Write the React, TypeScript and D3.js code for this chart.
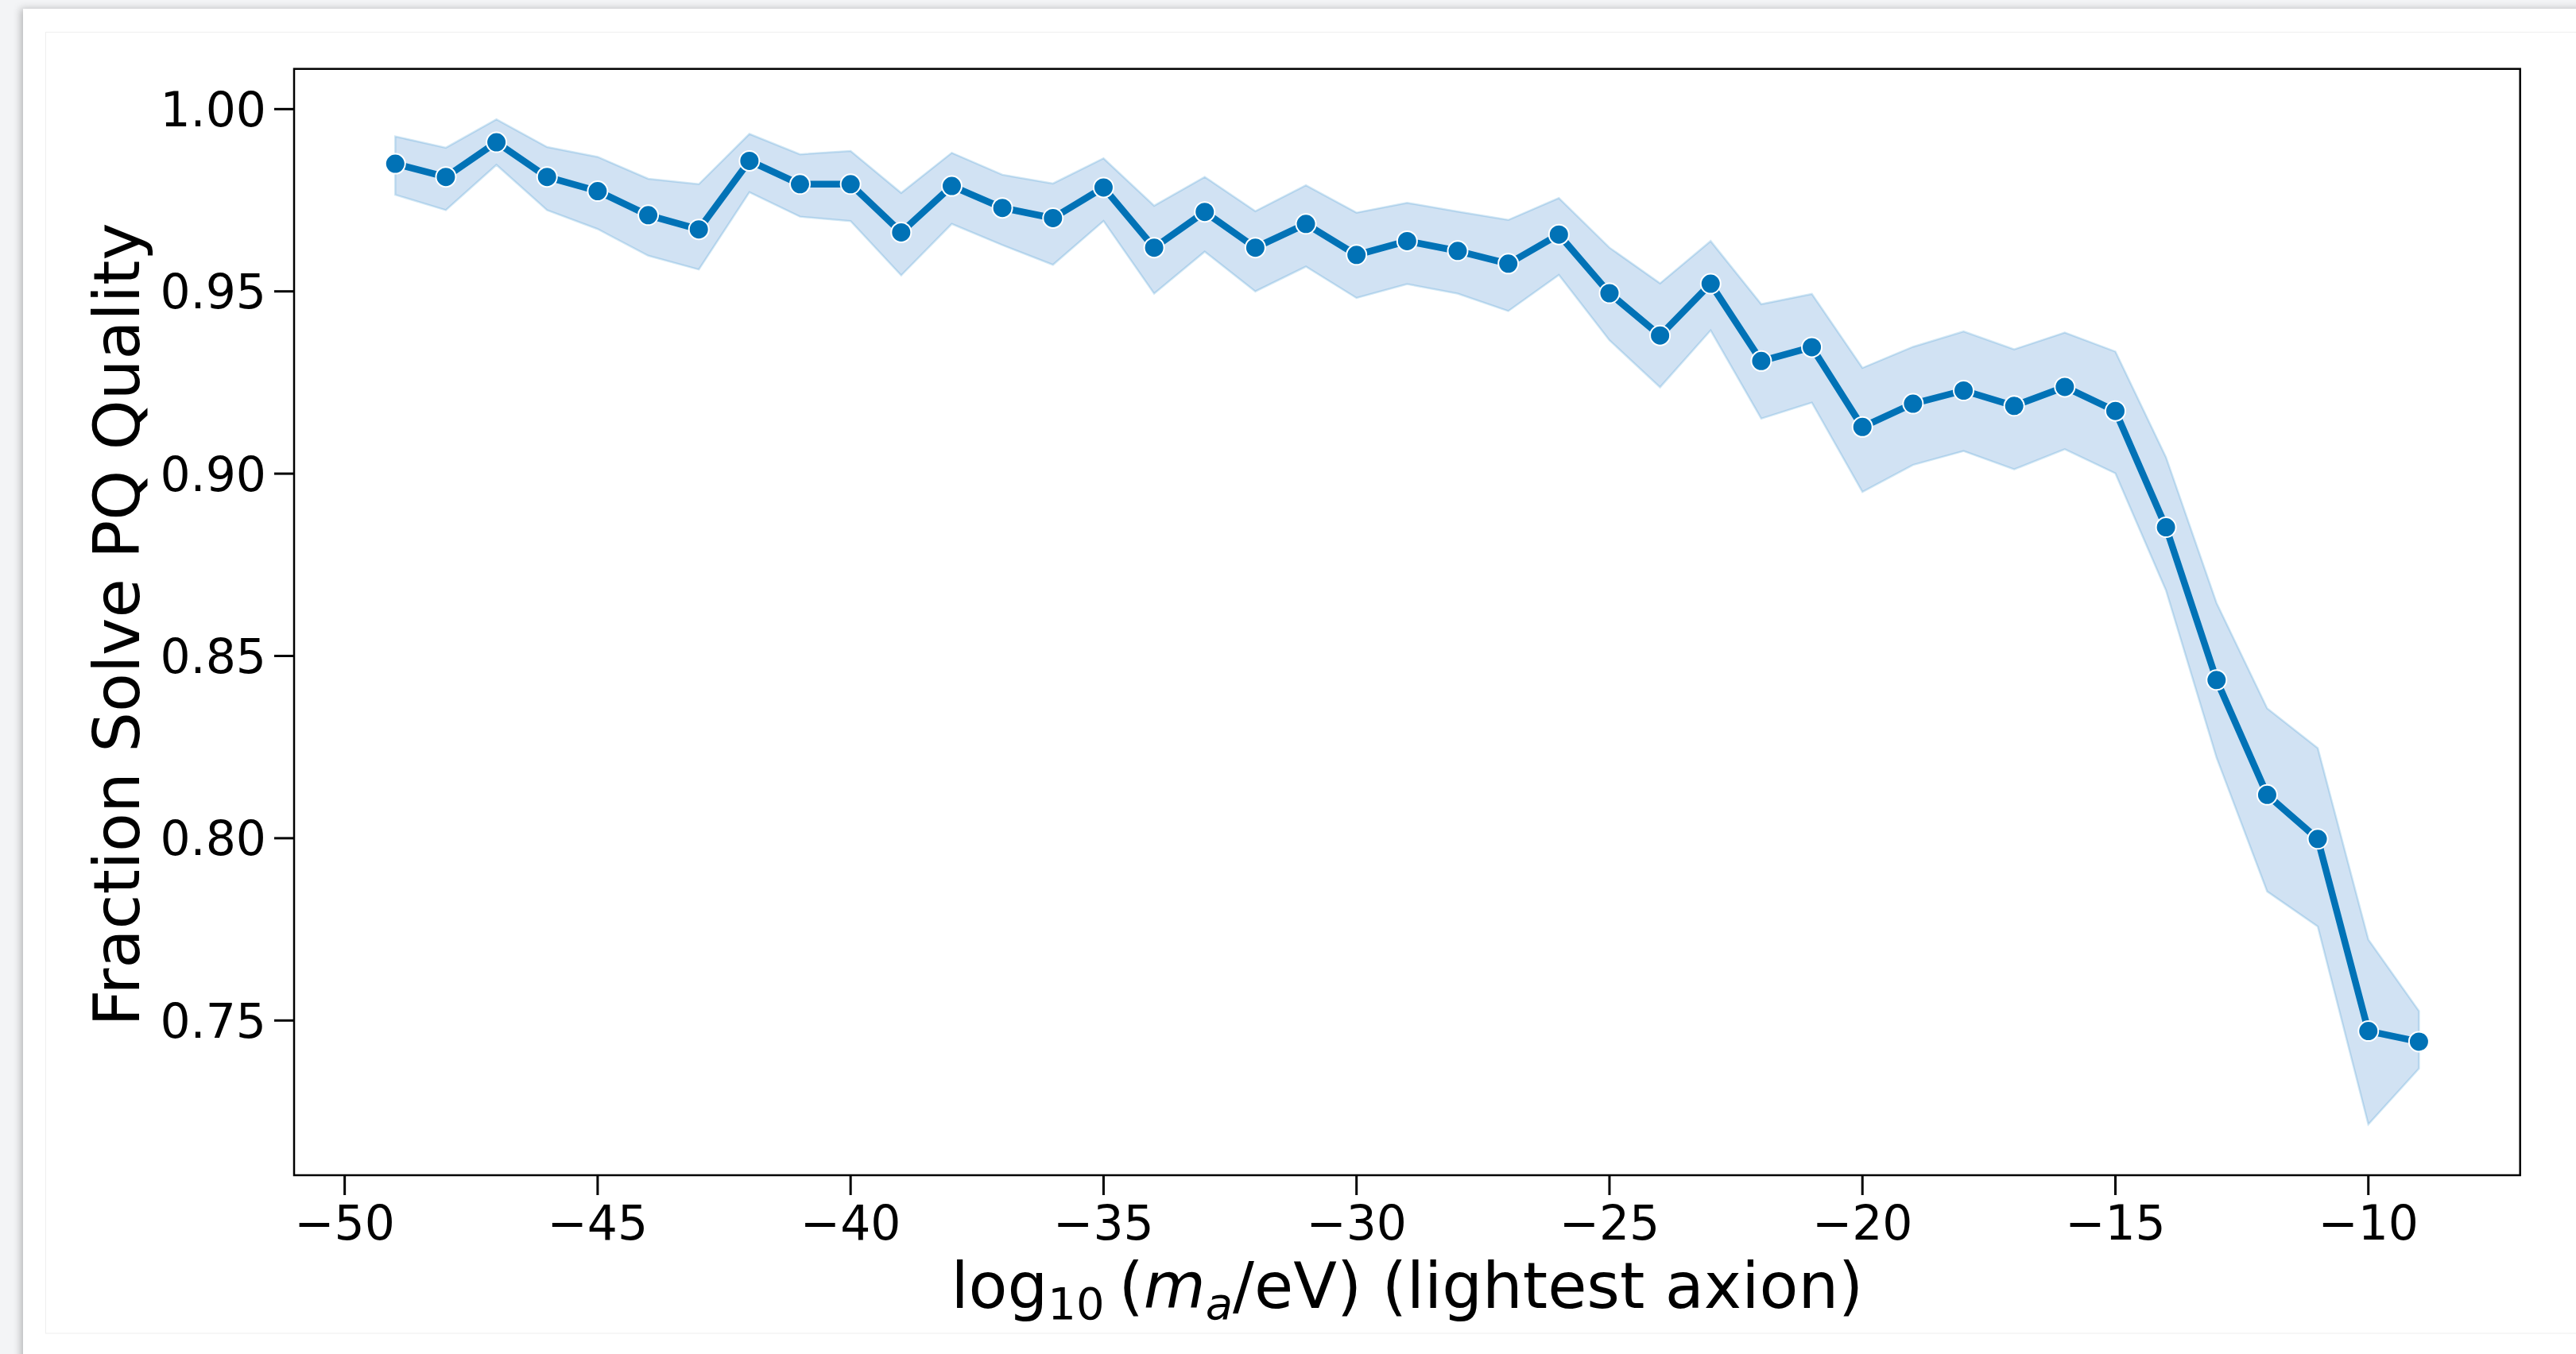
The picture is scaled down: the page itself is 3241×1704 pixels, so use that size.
import React from "react";
import * as d3 from "d3";

const massExponents = [-49, -48, -47, -46, -45, -44, -43, -42, -41, -40, -39, -38, -37, -36, -35, -34, -33, -32, -31, -30, -29, -28, -27, -26, -25, -24, -23, -22, -21, -20, -19, -18, -17, -16, -15, -14, -13, -12, -11, -10, -9];

const meanFraction = [0.985, 0.9814, 0.9909, 0.9814, 0.9775, 0.9709, 0.967, 0.9858, 0.9794, 0.9794, 0.9662, 0.9789, 0.9729, 0.9701, 0.9785, 0.962, 0.9718, 0.962, 0.9685, 0.96, 0.9638, 0.9611, 0.9576, 0.9656, 0.9495, 0.9379, 0.9521, 0.9309, 0.9347, 0.9128, 0.9192, 0.9228, 0.9186, 0.9238, 0.9172, 0.8853, 0.8434, 0.8119, 0.7998, 0.7471, 0.7442];

const upperFraction = [0.9925, 0.9894, 0.9972, 0.9896, 0.9869, 0.9809, 0.9794, 0.9932, 0.9876, 0.9885, 0.977, 0.988, 0.982, 0.9796, 0.9865, 0.9735, 0.9814, 0.972, 0.9791, 0.9716, 0.9743, 0.9719, 0.9696, 0.9756, 0.962, 0.9522, 0.9638, 0.9465, 0.9493, 0.929, 0.9348, 0.939, 0.9341, 0.9387, 0.9335, 0.9045, 0.8645, 0.8356, 0.8247, 0.7722, 0.7526];

const lowerFraction = [0.9765, 0.9723, 0.9847, 0.9723, 0.9671, 0.9598, 0.956, 0.9772, 0.9705, 0.9693, 0.9544, 0.9685, 0.9627, 0.9573, 0.9693, 0.9494, 0.9609, 0.95, 0.9568, 0.9482, 0.952, 0.9494, 0.9446, 0.9545, 0.9366, 0.9237, 0.9393, 0.9151, 0.9195, 0.895, 0.9024, 0.9062, 0.9012, 0.9067, 0.9001, 0.868, 0.8221, 0.7854, 0.7758, 0.7215, 0.7368];

const xTicks = [-50, -45, -40, -35, -30, -25, -20, -15, -10];
const yTicks = [0.75, 0.8, 0.85, 0.9, 0.95, 1.0];

const X_DOMAIN: [number, number] = [-51, -7];
const Y_DOMAIN: [number, number] = [0.70756, 1.01103];

const W = 3241;
const H = 1704;
const PLOT = { left: 370, right: 3170.7, top: 86.7, bottom: 1479 };
const BLUE = "#0172b6";
const FONT = "'DejaVu Sans', sans-serif";

export default function App() {
  const x = d3.scaleLinear().domain(X_DOMAIN).range([PLOT.left, PLOT.right]);
  const y = d3.scaleLinear().domain(Y_DOMAIN).range([PLOT.bottom, PLOT.top]);

  const rows = massExponents.map((m, i) => ({
    m,
    mean: meanFraction[i],
    lo: lowerFraction[i],
    hi: upperFraction[i],
  }));

  const area = d3
    .area<(typeof rows)[number]>()
    .x((d) => x(d.m))
    .y0((d) => y(d.lo))
    .y1((d) => y(d.hi));
  const line = d3
    .line<(typeof rows)[number]>()
    .x((d) => x(d.m))
    .y((d) => y(d.mean));

  const fmtY = d3.format(".2f");
  const fmtX = (v: number) => (v < 0 ? "\u2212" + Math.abs(v) : String(v));

  return (
    <svg
      width={W}
      height={H}
      style={{ position: "absolute", left: 0, top: 0, display: "block" }}
      fontFamily={FONT}
    >
      <defs>
        <filter id="cardShadow" x="-5%" y="-5%" width="110%" height="110%">
          <feDropShadow dx="-3" dy="0" stdDeviation="5" floodColor="#000" floodOpacity="0.25" />
        </filter>
      </defs>
      <rect x={0} y={0} width={W} height={H} fill="#f3f4f6" />
      <rect x={29} y={11} width={W + 40} height={H + 40} fill="#ffffff" filter="url(#cardShadow)" />
      <rect x={57.5} y={40.5} width={W} height={1637.5} fill="none" stroke="#efefef" strokeWidth={1} />

      {/* band */}
      <path d={area(rows) || ""} fill="#0a66bd" fillOpacity={0.19} stroke="#2a8fcf" strokeOpacity={0.22} strokeWidth={2.5} strokeLinejoin="miter" />
      {/* line */}
      <path d={line(rows) || ""} fill="none" stroke={BLUE} strokeWidth={8.5} strokeLinejoin="round" strokeLinecap="butt" />
      {rows.map((d) => (
        <circle key={d.m} cx={x(d.m)} cy={y(d.mean)} r={12.5} fill={BLUE} stroke="#ffffff" strokeWidth={2} />
      ))}

      {/* frame */}
      <rect
        x={PLOT.left}
        y={PLOT.top}
        width={PLOT.right - PLOT.left}
        height={PLOT.bottom - PLOT.top}
        fill="none"
        stroke="#000"
        strokeWidth={2.5}
      />

      {/* x ticks */}
      {xTicks.map((t) => (
        <g key={t}>
          <line x1={x(t)} x2={x(t)} y1={PLOT.bottom} y2={PLOT.bottom + 25} stroke="#000" strokeWidth={3} />
          <text x={x(t)} y={1560} fontSize={60} textAnchor="middle" fill="#000">
            {fmtX(t)}
          </text>
        </g>
      ))}

      {/* y ticks */}
      {yTicks.map((t) => (
        <g key={t}>
          <line x1={PLOT.left - 25} x2={PLOT.left} y1={y(t)} y2={y(t)} stroke="#000" strokeWidth={3} />
          <text x={335} y={y(t)} dy="0.36em" fontSize={60} textAnchor="end" fill="#000">
            {fmtY(t)}
          </text>
        </g>
      ))}

      {/* y label */}
      <text
        transform={`translate(175, 786) rotate(-90)`}
        fontSize={80}
        textAnchor="middle"
        fill="#000"
      >
        Fraction Solve PQ Quality
      </text>

      {/* x label */}
      <text x={(PLOT.left + PLOT.right) / 2} y={1646} fontSize={80} textAnchor="middle" fill="#000">
        log
        <tspan fontSize={56} dy={14}>10</tspan>
        <tspan dx={18} dy={-14}>(</tspan>
        <tspan fontStyle="italic">m</tspan>
        <tspan fontStyle="italic" fontSize={56} dy={14}>a</tspan>
        <tspan dy={-14}>/eV) (lightest axion)</tspan>
      </text>
    </svg>
  );
}
